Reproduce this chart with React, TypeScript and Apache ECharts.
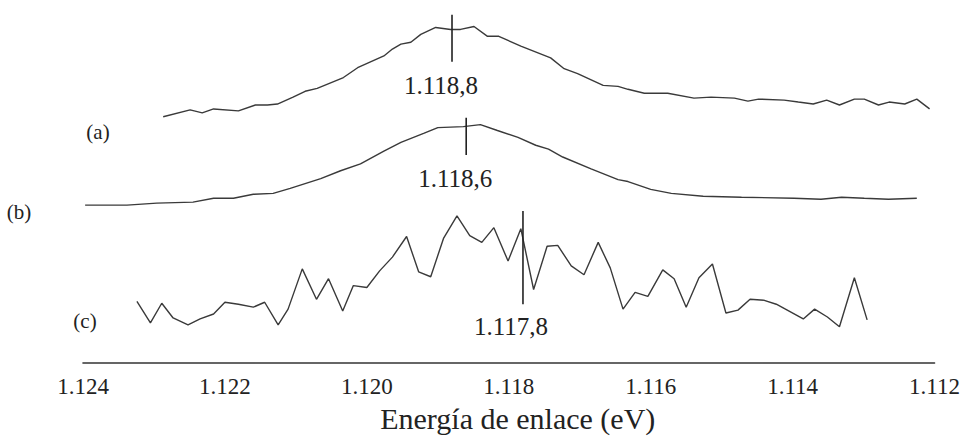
import React, { useEffect, useRef } from "react";
import * as echarts from "echarts";

// Binding energy (eV) and intensity (a.u., curves stacked with offsets)
const energyA = [1122.87, 1122.49, 1122.32, 1122.16, 1121.81, 1121.57, 1121.40, 1121.26, 1121.04, 1120.87, 1120.70, 1120.33, 1120.13, 1119.76, 1119.64, 1119.52, 1119.38, 1119.24, 1119.03, 1118.82, 1118.68, 1118.49, 1118.30, 1118.14, 1117.83, 1117.41, 1117.22, 1117.03, 1116.67, 1116.46, 1116.32, 1116.09, 1115.76, 1115.39, 1115.15, 1114.82, 1114.63, 1114.48, 1114.12, 1113.92, 1113.71, 1113.52, 1113.34, 1113.13, 1112.99, 1112.79, 1112.64, 1112.42, 1112.25, 1112.07];
const intensityA = [251, 258, 255, 259, 257, 263, 263, 264, 271, 277, 280, 291, 301, 313, 320, 325, 327, 335, 342, 340, 340, 343, 333, 333, 323, 311, 300, 295, 283, 282, 279, 275, 275, 270, 271, 270, 267, 269, 268, 266, 264, 268, 263, 269, 269, 263, 266, 264, 269, 259];

const energyB = [1123.97, 1123.38, 1122.96, 1122.45, 1122.16, 1121.88, 1121.60, 1121.32, 1121.08, 1120.65, 1120.37, 1120.09, 1119.76, 1119.52, 1119.20, 1119.00, 1118.64, 1118.40, 1118.16, 1117.87, 1117.62, 1117.44, 1117.24, 1116.84, 1116.46, 1116.32, 1116.00, 1115.71, 1115.26, 1114.72, 1113.98, 1113.60, 1113.31, 1112.99, 1112.65, 1112.25];
const intensityB = [161, 161, 163, 164, 168, 168, 172, 173, 178, 188, 196, 203, 216, 225, 234, 240, 241, 243, 237, 230, 222, 218, 210, 198, 187, 185, 177, 173, 170, 169, 168, 167, 169, 168, 167, 168];

const energyC = [1123.24, 1123.05, 1122.89, 1122.73, 1122.52, 1122.35, 1122.16, 1122.00, 1121.81, 1121.60, 1121.44, 1121.25, 1121.11, 1120.91, 1120.71, 1120.54, 1120.34, 1120.19, 1120.00, 1119.82, 1119.64, 1119.44, 1119.27, 1119.10, 1118.92, 1118.73, 1118.55, 1118.38, 1118.21, 1118.01, 1117.83, 1117.65, 1117.46, 1117.31, 1117.12, 1116.94, 1116.74, 1116.57, 1116.39, 1116.22, 1116.04, 1115.83, 1115.67, 1115.50, 1115.32, 1115.13, 1114.94, 1114.77, 1114.60, 1114.40, 1114.23, 1113.85, 1113.69, 1113.51, 1113.34, 1113.13, 1112.95];
const intensityC = [63, 41, 61, 46, 39, 45, 50, 62, 60, 57, 62, 39, 55, 96, 65, 86, 53, 79, 77, 94, 108, 129, 93, 88, 127, 150, 130, 123, 138, 104, 137, 75, 119, 120, 99, 90, 123, 97, 55, 72, 68, 95, 86, 57, 87, 101, 51, 54, 65, 64, 60, 45, 55, 47, 37, 87, 44];

// Peak positions (eV) with the vertical extent of each marker and the label height
const peakEnergies = [1118.8, 1118.6, 1117.8];
const peakMarkerSpans = [[307, 355], [212, 250], [60, 155]];
const peakLabelLevels = [283, 189, 38];
const peakLabelShift = [-11, -11, -12];

const curveTags = ["(a)", "(b)", "(c)"];

const xTicks = { min: 1112, max: 1124, step: 2 };

const SERIF = "Liberation Serif";
const INK = "#222222";
const PEAK_FONT = 25;

// Spanish number format: "." thousands separator, "," decimal separator
function fmtEs(v: number, decimals: number): string {
  const fixed = v.toFixed(decimals);
  const [intPart, dec] = fixed.split(".");
  const withThousands = intPart.replace(/\B(?=(\d{3})+(?!\d))/g, ".");
  return dec ? `${withThousands},${dec}` : withThousands;
}

function zip(xs: number[], ys: number[]) {
  return xs.map((x, i) => [x, ys[i]]);
}

export default function App() {
  const ref = useRef<HTMLDivElement>(null);

  useEffect(() => {
    document.body.style.margin = "0";
    document.body.style.overflow = "hidden";
    if (!ref.current) return;
    const chart = echarts.init(ref.current, undefined, { renderer: "svg" });

    const spectrumStyle = {
      type: "line" as const,
      showSymbol: false,
      symbol: "none",
      smooth: false,
      lineStyle: { color: "#3a3a3a", width: 1.4 },
      silent: true,
      z: 2,
    };

    // Vertical peak markers; the value label hangs below the lower end
    const markerSeries = peakEnergies.map((e, i) => ({
      type: "line" as const,
      symbol: "circle",
      symbolSize: 0,
      showSymbol: true,
      itemStyle: { color: "#222" },
      data: [
        {
          value: [e, peakMarkerSpans[i][0]],
          label: {
            show: true,
            position: "bottom",
            distance: peakMarkerSpans[i][0] - peakLabelLevels[i] - PEAK_FONT / 2,
            offset: [peakLabelShift[i], 0],
            formatter: () => fmtEs(e, 1),
            fontFamily: SERIF,
            fontSize: PEAK_FONT,
            color: INK,
          },
        },
        { value: [e, peakMarkerSpans[i][1]] },
      ],
      lineStyle: { color: "#222", width: 1.6 },
      silent: true,
      z: 3,
    }));

    const tagPositions = [
      [98, 132],
      [19, 212],
      [85, 321],
    ];

    chart.setOption({
      animation: false,
      backgroundColor: "#ffffff",
      textStyle: { fontFamily: SERIF },
      grid: { left: 83, right: 28, top: 0, bottom: 68, containLabel: false },
      xAxis: {
        type: "value",
        min: xTicks.min,
        max: xTicks.max,
        interval: xTicks.step,
        inverse: true,
        axisLine: { show: true, lineStyle: { color: "#333", width: 1.6 } },
        axisTick: { show: false },
        splitLine: { show: false },
        axisLabel: {
          margin: 12,
          fontFamily: SERIF,
          fontSize: 23,
          color: INK,
          formatter: (v: number) => fmtEs(v, 0),
        },
        name: "Energía de enlace (eV)",
        nameLocation: "middle",
        nameGap: 39,
        nameTextStyle: {
          fontFamily: SERIF,
          fontSize: 30,
          color: INK,
          padding: [0, 0, 0, 18],
        },
      },
      yAxis: {
        type: "value",
        min: 0,
        max: 370,
        show: false,
      },
      graphic: curveTags.map((t, i) => ({
        type: "text",
        x: tagPositions[i][0],
        y: tagPositions[i][1],
        style: {
          text: t,
          fontFamily: SERIF,
          fontSize: 21,
          fill: INK,
          align: "center",
          verticalAlign: "middle",
        },
      })),
      series: [
        { ...spectrumStyle, name: "(a)", data: zip(energyA, intensityA) },
        { ...spectrumStyle, name: "(b)", data: zip(energyB, intensityB) },
        { ...spectrumStyle, name: "(c)", data: zip(energyC, intensityC) },
        ...markerSeries,
      ],
    });

    return () => chart.dispose();
  }, []);

  return <div ref={ref} style={{ width: 963, height: 438 }} />;
}
